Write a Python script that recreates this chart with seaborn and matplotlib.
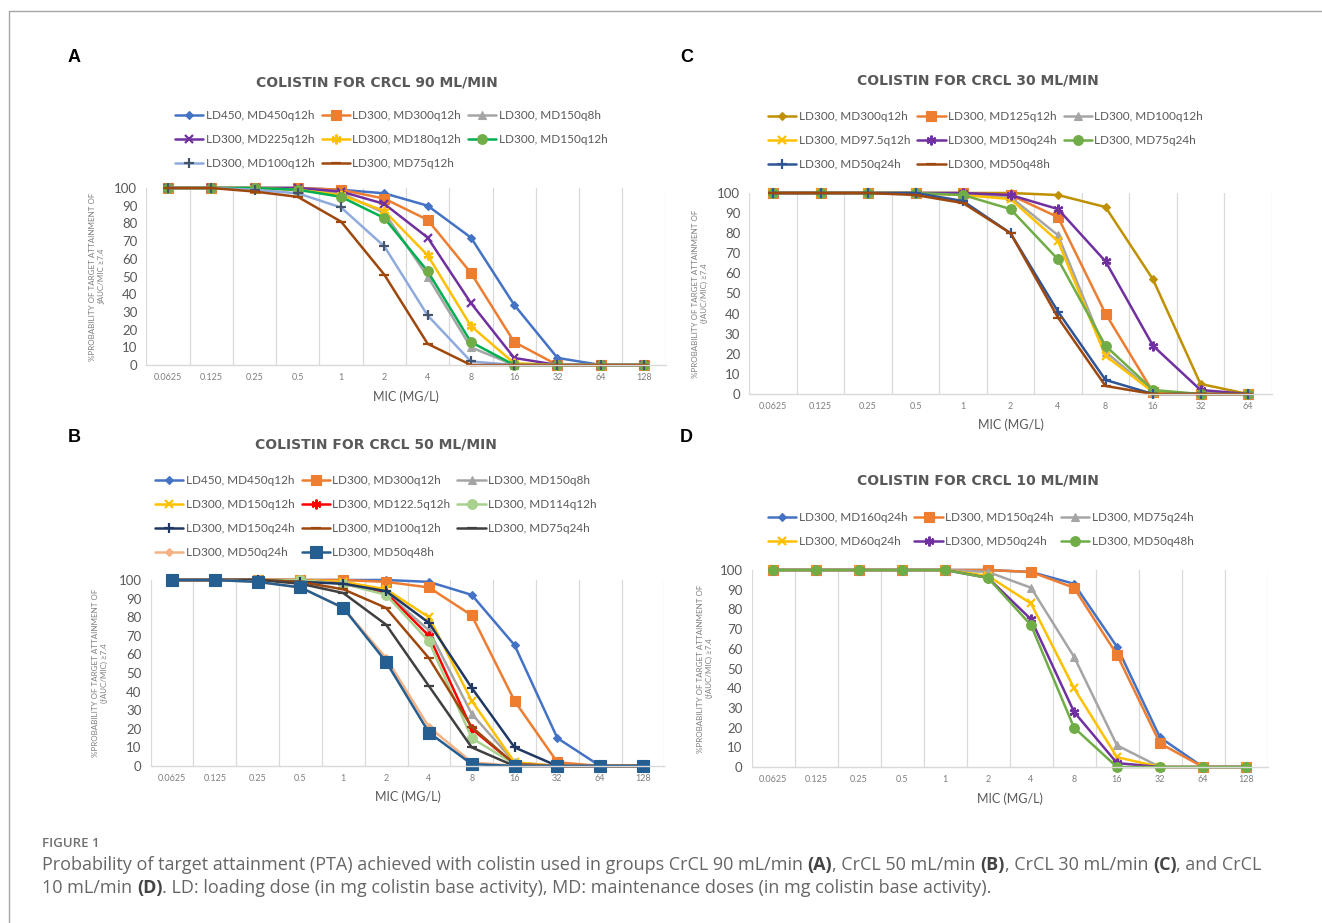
import numpy as np
import matplotlib
matplotlib.use("Agg")
import matplotlib.pyplot as plt
import seaborn as sns
from matplotlib.lines import Line2D

W, H = 1322, 923

# ------------------------------------------------------------------ #
# Data (PTA %)
# ------------------------------------------------------------------ #
mic_128 = ["0.0625", "0.125", "0.25", "0.5", "1", "2", "4", "8", "16", "32", "64", "128"]
mic_64 = mic_128[:11]

names_a = ["LD450, MD450q12h", "LD300, MD300q12h", "LD300, MD150q8h",
           "LD300, MD225q12h", "LD300, MD180q12h", "LD300, MD150q12h",
           "LD300, MD100q12h", "LD300, MD75q12h"]
pta_a = [
    [100, 100, 100, 100, 99, 97, 90, 72, 34, 4, 0, 0],
    [100, 100, 100, 100, 99, 94, 82, 52, 13, 0, 0, 0],
    [100, 100, 100, 99, 97, 86, 50, 10, 0, 0, 0, 0],
    [100, 100, 100, 100, 98, 91, 72, 35, 4, 0, 0, 0],
    [100, 100, 100, 99, 96, 87, 62, 22, 1, 0, 0, 0],
    [100, 100, 100, 99, 95, 83, 53, 13, 0, 0, 0, 0],
    [100, 100, 99, 97, 89, 67, 28, 2, 0, 0, 0, 0],
    [100, 100, 98, 95, 81, 51, 12, 0, 0, 0, 0, 0],
]

names_b = ["LD450, MD450q12h", "LD300, MD300q12h", "LD300, MD150q8h",
           "LD300, MD150q12h", "LD300, MD122.5q12h", "LD300, MD114q12h",
           "LD300, MD150q24h", "LD300, MD100q12h", "LD300, MD75q24h",
           "LD300, MD50q24h", "LD300, MD50q48h"]
pta_b = [
    [100, 100, 100, 100, 100, 100, 99, 92, 65, 15, 0, 0],
    [100, 100, 100, 100, 100, 99, 96, 81, 35, 2, 0, 0],
    [100, 100, 100, 100, 99, 93, 73, 28, 2, 0, 0, 0],
    [100, 100, 100, 100, 99, 95, 80, 35, 2, 0, 0, 0],
    [100, 100, 100, 100, 98, 93, 70, 20, 1, 0, 0, 0],
    [100, 100, 100, 100, 98, 92, 67, 15, 1, 0, 0, 0],
    [100, 100, 100, 99, 98, 94, 77, 42, 10, 0, 0, 0],
    [100, 100, 100, 99, 95, 85, 58, 21, 1, 0, 0, 0],
    [100, 100, 100, 98, 93, 76, 43, 10, 0, 0, 0, 0],
    [100, 100, 99, 96, 85, 58, 21, 2, 0, 0, 0, 0],
    [100, 100, 99, 96, 85, 56, 18, 1, 0, 0, 0, 0],
]

names_c = ["LD300, MD300q12h", "LD300, MD125q12h", "LD300, MD100q12h",
           "LD300, MD97.5q12h", "LD300, MD150q24h", "LD300, MD75q24h",
           "LD300, MD50q24h", "LD300, MD50q48h"]
pta_c = [
    [100, 100, 100, 100, 100, 100, 99, 93, 57, 5, 0],
    [100, 100, 100, 100, 100, 99, 88, 40, 1, 0, 0],
    [100, 100, 100, 100, 99, 98, 79, 21, 1, 0, 0],
    [100, 100, 100, 100, 99, 97, 76, 19, 1, 0, 0],
    [100, 100, 100, 100, 100, 99, 92, 66, 24, 2, 0],
    [100, 100, 100, 100, 99, 92, 67, 24, 2, 0, 0],
    [100, 100, 100, 100, 96, 80, 41, 7, 0, 0, 0],
    [100, 100, 100, 99, 95, 80, 38, 4, 0, 0, 0],
]

names_d = ["LD300, MD160q24h", "LD300, MD150q24h", "LD300, MD75q24h",
           "LD300, MD60q24h", "LD300, MD50q24h", "LD300, MD50q48h"]
pta_d = [
    [100, 100, 100, 100, 100, 100, 99, 93, 61, 15, 0, 0],
    [100, 100, 100, 100, 100, 100, 99, 91, 57, 12, 0, 0],
    [100, 100, 100, 100, 100, 99, 91, 56, 11, 0, 0, 0],
    [100, 100, 100, 100, 100, 97, 83, 40, 5, 0, 0, 0],
    [100, 100, 100, 100, 100, 96, 75, 28, 2, 0, 0, 0],
    [100, 100, 100, 100, 100, 96, 72, 20, 0, 0, 0, 0],
]

# ------------------------------------------------------------------ #
# Styles: (line colour, marker, marker size, marker colour)
# ------------------------------------------------------------------ #
STAR = (6, 2, 0)
style_a = [("#4472C4", "D", 4.5, "#4472C4"), ("#ED7D31", "s", 7, "#ED7D31"),
           ("#A5A5A5", "^", 6, "#A5A5A5"), ("#7030A0", "x", 6, "#7030A0"),
           ("#FFC000", STAR, 7, "#FFC000"), ("#00B050", "o", 7, "#70AD47"),
           ("#8FAADC", "+", 7, "#44546A"), ("#9E480E", "_", 7, "#9E480E")]
style_b = [("#4472C4", "D", 4.5, "#4472C4"), ("#ED7D31", "s", 7, "#ED7D31"),
           ("#A5A5A5", "^", 6, "#A5A5A5"), ("#FFC000", "x", 6, "#FFC000"),
           ("#FF0000", STAR, 7, "#FF0000"), ("#A9D18E", "o", 7, "#A9D18E"),
           ("#203864", "+", 7, "#203864"), ("#9E480E", "_", 7, "#9E480E"),
           ("#404040", "_", 7, "#404040"), ("#F4B183", "D", 4.5, "#F4B183"),
           ("#255E91", "s", 8, "#255E91")]
style_c = [("#BF9000", "D", 4.5, "#BF9000"), ("#ED7D31", "s", 7, "#ED7D31"),
           ("#A5A5A5", "^", 6, "#A5A5A5"), ("#FFC000", "x", 6, "#FFC000"),
           ("#7030A0", STAR, 7, "#7030A0"), ("#70AD47", "o", 7, "#70AD47"),
           ("#2F5597", "+", 7, "#2F5597"), ("#9E480E", "_", 7, "#9E480E")]
style_d = [("#4472C4", "D", 4.5, "#4472C4"), ("#ED7D31", "s", 7, "#ED7D31"),
           ("#A5A5A5", "^", 6, "#A5A5A5"), ("#FFC000", "x", 6, "#FFC000"),
           ("#7030A0", STAR, 7, "#7030A0"), ("#70AD47", "o", 7, "#70AD47")]

GRAY_TXT = "#595959"

sns.set_theme(style="white")
plt.rcParams["font.family"] = ["Lato", "DejaVu Sans"]

fig = plt.figure(figsize=(W / 100, H / 100), dpi=100)


def fx(px):
    return px / W


def fy(py):
    return 1 - py / H


def panel(first_px, last_px, top_px, bot_px, cats, names, values, styles,
          title, title_xy, ylabel, ylab_x, leg_xy, xlab_y, letter, letter_xy):
    step = (last_px - first_px) / (len(cats) - 1)
    x0, x1 = first_px - step / 2, last_px + step / 2
    ax = fig.add_axes([fx(x0), fy(bot_px), (x1 - x0) / W, (bot_px - top_px) / H])
    x = np.arange(len(cats))

    for name, vals, (col, mk, ms, mc) in zip(names, values, styles):
        mew = 1.6 if mk in ("x", "+", "_", STAR) else 0.8
        sns.lineplot(x=x, y=vals, ax=ax, color=col, lw=1.8, marker=mk,
                     markersize=ms, markerfacecolor=mc, markeredgecolor=mc,
                     markeredgewidth=mew, label=name, clip_on=False)

    ax.set_xlim(-0.5, len(cats) - 0.5)
    ax.set_ylim(0, 100)
    ax.set_yticks(range(0, 101, 10))
    ax.set_xticks(x, cats)
    ax.set_xticks(np.arange(-0.5, len(cats)), minor=True)
    ax.grid(False)
    ax.grid(which="minor", axis="x", color="#D9D9D9", lw=0.9)
    for s in ["left", "right", "top"]:
        ax.spines[s].set_visible(False)
    ax.spines["bottom"].set_color("#D9D9D9")
    ax.spines["bottom"].set_linewidth(1.0)
    ax.tick_params(which="both", length=0)
    ax.tick_params(axis="y", labelsize=9.5, labelcolor=GRAY_TXT, pad=6.5)
    ax.tick_params(axis="x", labelsize=6.5, labelcolor="#7F7F7F", pad=6)

    ax.set_xlabel("MIC (MG/L)", fontsize=9, color=GRAY_TXT, va="center")
    ax.xaxis.set_label_coords(fx((x0 + x1) / 2), fy(xlab_y), transform=fig.transFigure)
    ax.set_ylabel(ylabel, fontsize=5.8, color="#7F7F7F", ha="center", va="center",
                  multialignment="center", linespacing=1.4)
    ax.yaxis.set_label_coords(fx(ylab_x), fy((top_px + bot_px) / 2), transform=fig.transFigure)

    fig.text(fx(title_xy[0]), fy(title_xy[1]), title, ha="center", va="center",
             fontsize=10, fontweight="bold", color=GRAY_TXT,
             family=["DejaVu Sans"])
    fig.text(fx(letter_xy[0]), fy(letter_xy[1]), letter, ha="left", va="center",
             fontsize=13, fontweight="bold", color="black", family="Liberation Sans")

    handles, labels = ax.get_legend_handles_labels()
    if ax.get_legend() is not None:
        ax.get_legend().remove()
    n = len(handles)
    order = [i for k in range(3) for i in range(k, n, 3)]
    fig.legend([handles[i] for i in order], [labels[i] for i in order], ncol=3,
               loc="upper left", bbox_to_anchor=(fx(leg_xy[0]), fy(leg_xy[1])),
               frameon=False, fontsize=8.5, handlelength=2.4, handletextpad=0.2,
               columnspacing=0.6, labelspacing=1.1, borderpad=0, borderaxespad=0,
               labelcolor=GRAY_TXT)
    return ax


YL = "%PROBABILITY OF TARGET ATTAINMENT OF\n(ƒAUC/MIC) ≥7.4"

panel(168, 644, 188, 365, mic_128, names_a, pta_a, style_a,
      "COLISTIN FOR CRCL 90 ML/MIN", (377, 82),
      "%PROBABILITY OF TARGET ATTAINMENT OF\nƒAUC/MIC ≥7.4", 97,
      (175, 110), 397, "A", (68, 58))
panel(172, 643, 580, 766, mic_128, names_b, pta_b, style_b,
      "COLISTIN FOR CRCL 50 ML/MIN", (376, 445), YL, 100,
      (155, 475), 797, "B", (68, 437))
panel(773, 1248, 193, 394, mic_64, names_c, pta_c, style_c,
      "COLISTIN FOR CRCL 30 ML/MIN", (978, 81), YL, 700,
      (768, 111), 425, "C", (680, 58))
panel(773, 1246, 570, 767, mic_128, names_d, pta_d, style_d,
      "COLISTIN FOR CRCL 10 ML/MIN", (978, 481), YL, 705,
      (768, 512), 799, "D", (680, 437))

# frame around the figure (top and left edges)
fig.add_artist(Line2D([fx(9), fx(9)], [0, fy(11)], transform=fig.transFigure,
                      color="#A6A6A6", lw=1))
fig.add_artist(Line2D([fx(9), 1], [fy(11), fy(11)], transform=fig.transFigure,
                      color="#A6A6A6", lw=1))

# ------------------------------------------------------------------ #
# Caption
# ------------------------------------------------------------------ #
CAP_FONT = ["Open Sans", "DejaVu Sans"]
CAP_SIZE = 13
renderer = fig.canvas.get_renderer()


def text_width(txt, bold):
    w = fig.text(0, 0, txt + "|", fontsize=CAP_SIZE, family=CAP_FONT,
                 fontweight="bold" if bold else "normal")
    b = fig.text(0, 0, "|", fontsize=CAP_SIZE, family=CAP_FONT,
                 fontweight="bold" if bold else "normal")
    width = w.get_window_extent(renderer).width - b.get_window_extent(renderer).width
    w.remove()
    b.remove()
    return width


def rich_line(x_px, y_px, parts):
    x = x_px
    for txt, bold in parts:
        fig.text(fx(x), fy(y_px), txt, fontsize=CAP_SIZE, family=CAP_FONT,
                 fontweight="bold" if bold else "normal",
                 color="#444444" if bold else "#666666", va="baseline")
        x += text_width(txt, bold)


fig.text(fx(42), fy(847), "FIGURE 1", fontsize=9.5, family=CAP_FONT,
         fontweight="semibold", color="#707070", va="baseline")
rich_line(42, 870, [
    ("Probability of target attainment (PTA) achieved with colistin used in groups CrCL 90 mL/min ", False),
    ("(A)", True), (", CrCL 50 mL/min ", False), ("(B)", True),
    (", CrCL 30 mL/min ", False), ("(C)", True), (", and CrCL", False),
])
rich_line(42, 893, [
    ("10 mL/min ", False), ("(D)", True),
    (". LD: loading dose (in mg colistin base activity), MD: maintenance doses (in mg colistin base activity).", False),
])

fig.savefig("out.png", dpi=100)
